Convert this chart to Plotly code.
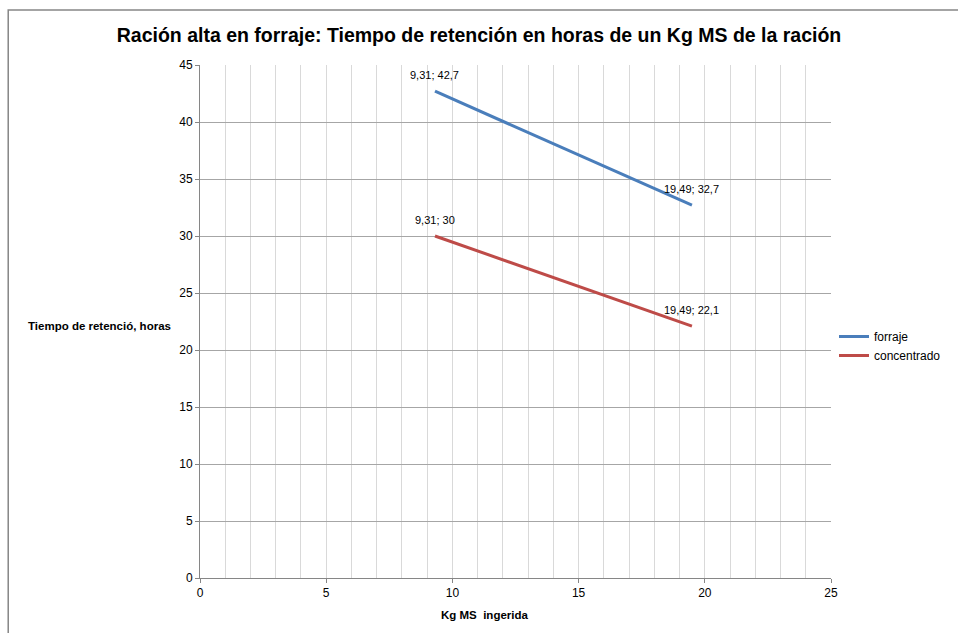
import plotly.graph_objects as go

x_vals = [9.31, 19.49]
forraje = [42.7, 32.7]
concentrado = [30.0, 22.1]
forraje_labels = ["9,31; 42,7", "19,49; 32,7"]
concentrado_labels = ["9,31; 30", "19,49; 22,1"]

W, H = 958, 633
L, R, T, B = 200, 123, 65, 55
pw, ph = W - L - R, H - T - B

def px(x):
    return (x - L) / pw

def py(y):
    return (H - B - y) / ph

font = "Liberation Sans, Arial, sans-serif"

fig = go.Figure()
fig.add_trace(go.Scatter(x=x_vals, y=forraje, mode="lines", name="forraje",
                         line=dict(color="#4a7ebb", width=3)))
fig.add_trace(go.Scatter(x=x_vals, y=concentrado, mode="lines", name="concentrado",
                         line=dict(color="#be4b48", width=3)))

annotations = []
for xs, ys, labels in [(x_vals, forraje, forraje_labels), (x_vals, concentrado, concentrado_labels)]:
    for xv, yv, lab in zip(xs, ys, labels):
        annotations.append(dict(text=lab, x=xv, y=yv, xref="x", yref="y", showarrow=False,
                                xanchor="center", yanchor="middle", yshift=16,
                                font=dict(size=11, family=font, color="#000000")))

annotations += [
    dict(text="<b>Tiempo de retenció, horas</b>", xref="paper", yref="paper",
         x=px(99), y=py(326), xanchor="center", yanchor="middle", showarrow=False,
         font=dict(size=11.5, family=font)),
    dict(text="<b>Kg MS  ingerida</b>", xref="paper", yref="paper",
         x=px(487), y=py(615), xanchor="center", yanchor="middle", showarrow=False,
         font=dict(size=11.5, family=font)),
]

fig.update_layout(
    width=W, height=H,
    margin=dict(l=L, r=R, t=T, b=B),
    paper_bgcolor="white", plot_bgcolor="white",
    font=dict(family=font, size=11, color="#000000"),
    title=dict(text="<b>Ración alta en forraje: Tiempo de retención en horas de un Kg MS de la ración</b>",
               x=0.5, xanchor="center", y=1 - 35 / H, yanchor="middle",
               font=dict(size=19.5, family=font, color="#000000")),
    showlegend=True,
    legend=dict(x=px(838), y=py(346), xanchor="left", yanchor="middle",
                font=dict(size=12, family=font), bgcolor="rgba(0,0,0,0)",
                itemwidth=30),
    xaxis=dict(range=[0, 25], dtick=5, tick0=0, showgrid=True, gridcolor="#d9d9d9", gridwidth=1,
               minor=dict(dtick=1, showgrid=True, gridcolor="#d9d9d9", gridwidth=1),
               showline=True, linecolor="#868686", linewidth=1,
               ticks="outside", ticklen=4, tickcolor="#868686",
               zeroline=False, tickfont=dict(size=12, family=font)),
    yaxis=dict(range=[0, 45], dtick=5, tick0=0, showgrid=True, gridcolor="#a6a6a6", gridwidth=1,
               showline=True, linecolor="#868686", linewidth=1,
               ticks="outside", ticklen=4, tickcolor="#868686",
               zeroline=False, tickfont=dict(size=12, family=font)),
    annotations=annotations,
    shapes=[
        dict(type="rect", xref="paper", yref="paper",
             x0=px(7), x1=px(970), y0=py(645), y1=py(10),
             line=dict(color="#868686", width=1.5), fillcolor="rgba(0,0,0,0)", layer="below"),
    ],
)

fig.write_html("out.html", config={"displayModeBar": False},
               post_script="document.body.style.margin='0px';document.body.style.overflow='hidden';")
